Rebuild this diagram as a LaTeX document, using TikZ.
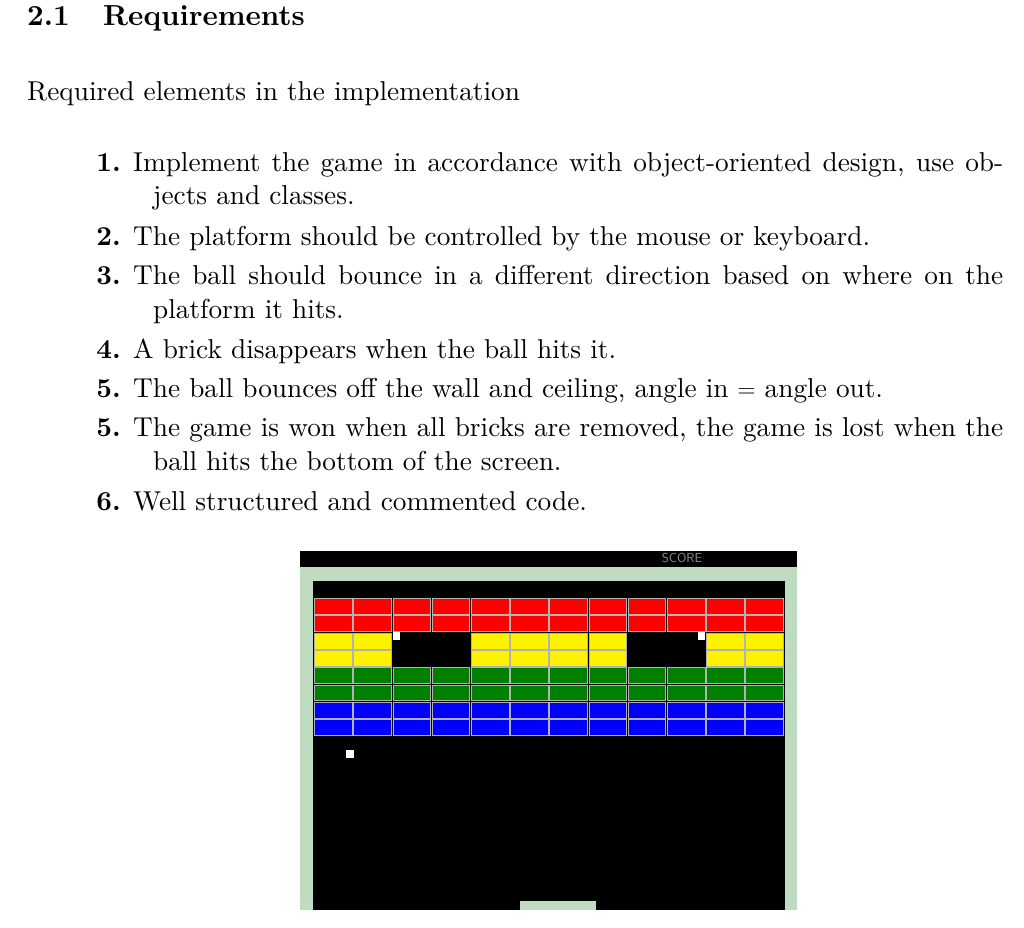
\documentclass[tikz,border=0pt]{standalone}
\usepackage{fontspec}
\setmainfont{lmroman10-regular.otf}[BoldFont=lmroman10-bold.otf]
\begin{document}
\begin{tikzpicture}[x=1pt,y=-1pt,
  txt/.style={anchor=base west,inner sep=0pt,font=\fontsize{27.3}{30}\selectfont},
  num/.style={anchor=base east,inner sep=0pt,font=\fontsize{27.3}{30}\selectfont\bfseries}]
\useasboundingbox (0,0) rectangle (1024,927);
\node[anchor=base west,inner sep=0pt,font=\fontsize{29}{32}\selectfont\bfseries] (h1) at (27,25) {2.1};
\node[anchor=base west,inner sep=0pt,font=\fontsize{29}{32}\selectfont\bfseries] (h2) at (103,25) {Requirements};
\node[txt] (r) at (27,100) {Required elements in the implementation};
\node[num] (n1) at (121,171) {1.};
\node[txt] (t1a) at (133,171) {\makebox[870pt][s]{Implement the game in accordance with object-oriented design, use ob-}};
\node[txt] (t1b) at (153,204) {jects and classes.};
\node[num] (n2) at (121,245) {2.};
\node[txt] (t2) at (133,245) {The platform should be controlled by the mouse or keyboard.};
\node[num] (n3) at (121,284) {3.};
\node[txt] (t3a) at (133,284) {\makebox[870pt][s]{The ball should bounce in a different direction based on where on the}};
\node[txt] (t3b) at (153,318) {platform it hits.};
\node[num] (n4) at (121,358) {4.};
\node[txt] (t4) at (133,358) {A brick disappears when the ball hits it.};
\node[num] (n5) at (121,397) {5.};
\node[txt] (t5) at (133,397) {The ball bounces off the wall and ceiling, angle in $=$ angle out.};
\node[num] (n5b) at (121,436) {5.};
\node[txt] (t5a) at (133,436) {\makebox[870pt][s]{The game is won when all bricks are removed, the game is lost when the}};
\node[txt] (t5b) at (153,470) {ball hits the bottom of the screen.};
\node[num] (n6) at (121,510) {6.};
\node[txt] (t6) at (133,510) {Well structured and commented code.};
% game
\definecolor{frame}{RGB}{192,220,192}
\fill[black] (300,551) rectangle (797,567);
\node[text=frame!70!black,font=\sffamily\fontsize{13}{14}\selectfont,inner sep=0pt] (score) at (682,558) {SCORE};
\fill[frame] (300,567) rectangle (797,910);
\fill[black] (313,581) rectangle (785,910);
\foreach \r/\c in {0/red,1/red,2/yellow,3/yellow,4/green!50!black,5/green!50!black,6/blue,7/blue}{
  \foreach \i in {0,...,11}{
    \pgfmathsetmacro\skip{(\r==2||\r==3)&&(\i==2||\i==3||\i==8||\i==9)?1:0}
    \ifnum\skip=0
      \fill[\c,draw=gray!60,line width=0.7pt] ({314.5+\i*39.2},{598.5+\r*17.3}) rectangle ({314.5+(\i+1)*39.2-1.5},{598.5+(\r+1)*17.3-1.5});
    \fi
  }
}
\fill[white] (393,632) rectangle (400,640);
\fill[white] (698,632) rectangle (705,640);
\fill[white] (346,750) rectangle (354,758);
\fill[frame] (520,901) rectangle (596,910);
\end{tikzpicture}
\end{document}
